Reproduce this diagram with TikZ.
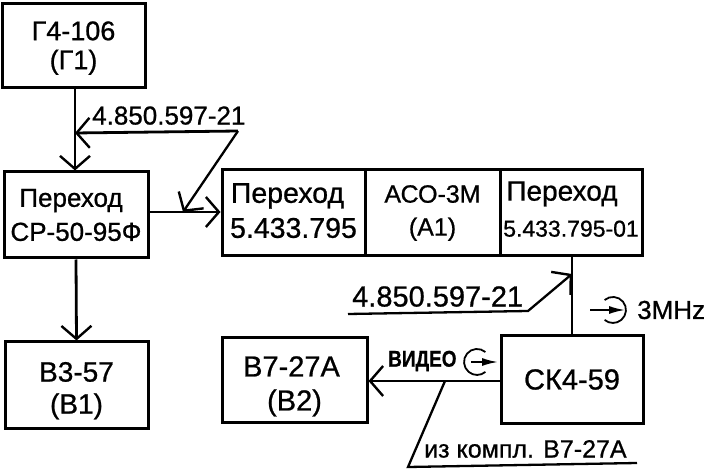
\documentclass[tikz,border=0pt]{standalone}
\usepackage{fontspec}
\usepackage{graphicx}
\setmainfont{Liberation Sans}[FakeBold=0.8]
\usetikzlibrary{arrows.meta,calc}
\newcommand{\fs}[2]{\fontsize{#1}{#2}\selectfont}
\newcommand{\up}[1]{\rule{0pt}{#1pt}}
\newcommand{\dn}[1]{\rule[-#1pt]{0pt}{#1pt}}
\tikzset{
  blockbox/.style={draw=black,line width=3pt,fill=white,inner sep=0pt,align=center},
  wire/.style={draw=black,line width=2.8pt},
  thin wire/.style={draw=black,line width=2.3pt},
  barb/.style={-{Straight Barb[length=13pt,width=30pt,line width=2.4pt]}},
  lbl/.style={inner sep=0pt},
  sig/.style={draw=black,line width=1.8pt},
  sigarrow/.style={line width=1.8pt,-{Latex[length=16pt,width=8pt]}},
}
\begin{document}
\begin{tikzpicture}[x=1pt,y=-1pt]
\useasboundingbox (0,0) rectangle (707,470);
\fill[white] (0,0) rectangle (707,470);
% blocks
\node[blockbox,font=\fs{27}{29},minimum width=143pt,minimum height=84pt] (g1) at (73.5,46) {\up{23}Г4-106\\(Г1)};
\node[blockbox,font=\fs{26}{34},minimum width=144pt,minimum height=86pt] (p1) at (76,215) {\hspace*{-10pt}Переход\\СР-50-95Ф};
\node[blockbox,font=\fs{28}{32},minimum width=143pt,minimum height=86pt] (b1) at (76.5,385) {\up{31}В3-57\\(В1)};
\node[blockbox,font=\fs{28.5}{35},minimum width=143pt,minimum height=86pt] (p2) at (293.5,213) {\hspace*{-12pt}Переход\\5.433.795\dn{5}};
\node[blockbox,font=\fs{25}{33},minimum width=135pt,minimum height=86pt] (a1) at (432.5,213) {АСО-3М\\(А1)};
\node[blockbox,font=\fs{28}{36},minimum width=142pt,minimum height=86pt] (p3) at (571,213) {\hspace*{-18pt}Переход\\\fs{23}{36}5.433.795-01\dn{8}};
\node[blockbox,font=\fs{29}{34},minimum width=145pt,minimum height=84pt] (b2) at (294.5,380) {\up{33}\hspace*{-6pt}В7-27А\\(В2)};
\node[blockbox,font=\fs{29}{34},minimum width=142pt,minimum height=87pt] (sk) at (572,379.5) {СК4-59};
% free ends
\coordinate (j1) at (75,133);
\coordinate (k1) at (238,131);
\coordinate (j2) at (183,212);
\coordinate (l1) at (348,314);
\coordinate (k2) at (528,311);
\coordinate (j3) at (572,274);
\coordinate (j4) at (445,381);
\coordinate (k3) at (408,467);
\coordinate (l3) at (637,463);
% connectors
\draw[wire,barb] (g1.south -| j1) -- (p1.north -| j1);
\draw[wire,barb] (k1) -- (j1);
\draw[thin wire,barb] (k1) -- (j2);
\draw[wire,barb] (p1.east |- j2) -- (p2.west |- j2);
\draw[wire,barb] (p1.south) -- (b1.north);
\draw[wire] (sk.north) -- (p3.south -| sk.north);
\draw[thin wire,barb] (l1) -- (k2) -- (j3);
\draw[wire,barb] (sk.west |- j4) -- (b2.east |- j4);
\draw[thin wire] (j4) -- (k3) -- (l3);
% labels
\node[lbl,anchor=south west,font=\fs{26}{30}] (t1) at (92,125) {4.850.597-21};
\node[lbl,anchor=south west,font=\fs{29}{32}] (t2) at (352,307) {4.850.597-21};
\node[lbl,anchor=west,font=\fs{26}{30}] (t3) at (637,310) {3MHz};
\node[lbl,anchor=west,font=\bfseries\fs{19}{24}] (t4) at (388,361) {\scalebox{1}[1.2]{ВИДЕО}};
\node[lbl,anchor=south west,font=\fs{25}{28}] (t5) at (424,458) {из компл. В7-27А};
% signal symbols
\coordinate (c1) at (613,310);
\coordinate (c2) at (477,362);
\draw[sig] ($(c1)+(-8.4,-10)$) arc[start angle=130,end angle=-130,radius=13pt];
\draw[sig] ($(c2)+(8.4,-10)$) arc[start angle=50,end angle=310,radius=13pt];
\coordinate (s1) at (590,310);
\coordinate (e1) at (625,310);
\coordinate (s2) at (471,362);
\coordinate (e2) at (498,362);
\draw[sigarrow] (s1) -- (e1);
\draw[sigarrow] (s2) -- (e2);
\end{tikzpicture}
\end{document}
